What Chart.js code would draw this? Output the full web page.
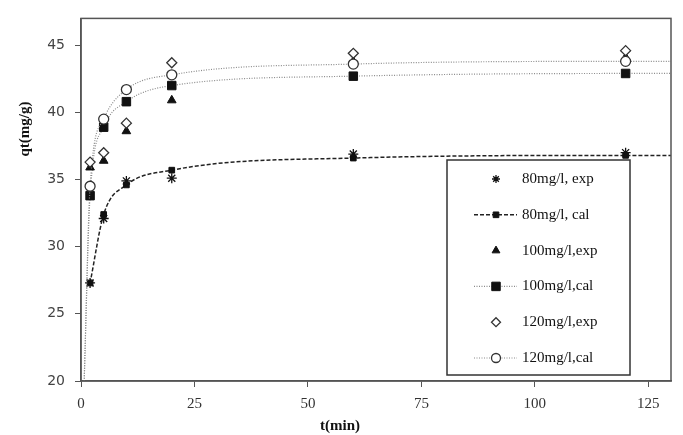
<!DOCTYPE html>
<html>
<head>
<meta charset="utf-8">
<script src="https://cdn.jsdelivr.net/npm/chart.js@4"></script>
<style>
  body { margin: 0; background: #fff; }
  #wrap { width: 683px; height: 435px; }
</style>
</head>
<body>
<div id="wrap"><canvas id="myChart"></canvas></div>
<script>
// sampling times (min)
const times = [2, 5, 10, 20, 60, 120];
// times for the model curves (line runs off the bottom and to the right edge)
const calTimes80 = [2, 5, 10, 20, 60, 120, 130];
const calTimes = [0.7, 2, 5, 10, 20, 60, 120, 130];

const exp80 = [27.3, 32.1, 34.9, 35.1, 36.9, 37.0];
const cal80 = [27.3, 32.4, 34.6, 35.7, 36.6, 36.8, 36.8];
const exp100 = [35.9, 36.4, 38.6, 40.9, 43.8, 44.1];
const cal100 = [20, 33.8, 38.9, 40.8, 42.0, 42.7, 42.9, 42.9];
const exp120 = [36.3, 37.0, 39.2, 43.7, 44.4, 44.6];
const cal120 = [20, 34.5, 39.5, 41.7, 42.8, 43.6, 43.8, 43.8];

const xTicks = [0, 25, 50, 75, 100, 125];
const yTicks = [20, 25, 30, 35, 40, 45];
const labels = ['80mg/l, exp', '80mg/l, cal', '100mg/l,exp', '100mg/l,cal', '120mg/l,exp', '120mg/l,cal'];

function pts(xs, ys) {
  return ys.map((y, i) => ({ x: xs[i], y: y }));
}
// hide markers on the extra curve points (first/last that are not sampling times)
function radii(xs, r) {
  return xs.map(x => times.includes(x) ? r : 0);
}

const ctx = document.getElementById('myChart');

const boxPlugin = {
  id: 'box',
  afterDraw(chart) {
    const c = chart.ctx;
    const a = chart.chartArea;
    c.save();
    c.strokeStyle = '#555';
    c.lineWidth = 1.5;
    c.strokeRect(a.left, a.top, a.right - a.left, a.bottom - a.top);

    // axis titles
    c.fillStyle = '#111';
    c.font = 'bold 15px "Liberation Serif"';
    c.textAlign = 'center';
    c.textBaseline = 'middle';
    c.fillText('t(min)', 340, 426);
    c.translate(25, 129);
    c.rotate(-Math.PI / 2);
    c.fillText('qt(mg/g)', 0, 0);
    c.restore();

    // legend
    c.save();
    const lx = 447, ly = 160, lw = 183, lh = 215;
    c.fillStyle = '#fff';
    c.fillRect(lx, ly, lw, lh);
    c.strokeStyle = '#333';
    c.lineWidth = 1.5;
    c.strokeRect(lx, ly, lw, lh);
    chart.data.datasets.forEach((ds, i) => {
      const y = 179 + i * 35.8;
      if (ds.showLine) {
        c.beginPath();
        c.setLineDash(ds.borderDash || []);
        c.strokeStyle = ds.borderColor;
        c.lineWidth = ds.borderWidth;
        c.moveTo(474, y);
        c.lineTo(517, y);
        c.stroke();
        c.setLineDash([]);
      }
      c.fillStyle = ds.pointBackgroundColor;
      c.strokeStyle = ds.pointBorderColor;
      c.lineWidth = ds.pointBorderWidth;
      Chart.helpers.drawPoint(c, {
        pointStyle: ds.pointStyle,
        radius: ds.legendRadius,
        borderWidth: ds.pointBorderWidth,
        rotation: 0
      }, 496, y);
      c.fillStyle = '#111';
      c.font = '15px "Liberation Serif"';
      c.textAlign = 'left';
      c.textBaseline = 'middle';
      c.fillText(ds.label, 522, y);
    });
    c.restore();
  }
};

new Chart(ctx, {
  type: 'scatter',
  data: {
    datasets: [
      {
        label: labels[0],
        data: pts(times, exp80),
        showLine: false,
        pointStyle: 'star',
        pointRadius: 5,
        legendRadius: 4,
        pointBackgroundColor: '#111',
        pointBorderColor: '#111',
        pointBorderWidth: 1.3,
        order: 1
      },
      {
        label: labels[1],
        data: pts(calTimes80, cal80),
        showLine: true,
        borderColor: '#222',
        borderWidth: 1.5,
        borderDash: [4, 2],
        cubicInterpolationMode: 'monotone',
        pointStyle: 'rect',
        pointRadius: radii(calTimes80, 4),
        legendRadius: 4,
        pointBackgroundColor: '#111',
        pointBorderColor: '#111',
        pointBorderWidth: 1,
        order: 2
      },
      {
        label: labels[2],
        data: pts(times, exp100),
        showLine: false,
        pointStyle: 'triangle',
        pointRadius: 5,
        legendRadius: 4.5,
        pointBackgroundColor: '#111',
        pointBorderColor: '#111',
        pointBorderWidth: 1,
        order: 1
      },
      {
        label: labels[3],
        data: pts(calTimes, cal100),
        showLine: true,
        borderColor: '#8a8a8a',
        borderWidth: 1.2,
        borderDash: [1, 1.5],
        cubicInterpolationMode: 'monotone',
        pointStyle: 'rect',
        pointRadius: radii(calTimes, 6),
        legendRadius: 6,
        pointBackgroundColor: '#111',
        pointBorderColor: '#111',
        pointBorderWidth: 1,
        order: 2
      },
      {
        label: labels[4],
        data: pts(times, exp120),
        showLine: false,
        pointStyle: 'rectRot',
        pointRadius: 5,
        legendRadius: 4.5,
        pointBackgroundColor: '#fff',
        pointBorderColor: '#333',
        pointBorderWidth: 1.3,
        order: 0
      },
      {
        label: labels[5],
        data: pts(calTimes, cal120),
        showLine: true,
        borderColor: '#8a8a8a',
        borderWidth: 1.2,
        borderDash: [1, 1.5],
        cubicInterpolationMode: 'monotone',
        pointStyle: 'circle',
        pointRadius: radii(calTimes, 5),
        legendRadius: 4.5,
        pointBackgroundColor: '#fff',
        pointBorderColor: '#333',
        pointBorderWidth: 1.3,
        order: 0
      }
    ]
  },
  options: {
    responsive: true,
    maintainAspectRatio: false,
    animation: false,
    layout: { padding: { left: 0, right: 12, top: 14, bottom: 0 } },
    plugins: {
      legend: { display: false },
      tooltip: { enabled: false }
    },
    scales: {
      x: {
        type: 'linear',
        min: 0,
        max: 130,
        afterFit: function(scale) { scale.height = 54; },
        afterBuildTicks: function(scale) { scale.ticks = xTicks.map(v => ({ value: v })); },
        ticks: {
          padding: 8,
          color: '#333',
          font: { family: '"Liberation Serif"', size: 15 }
        },
        grid: { drawOnChartArea: false, tickLength: 6, color: '#555' },
        border: { color: '#555', width: 1.5 }
      },
      y: {
        min: 20,
        max: 47,
        afterFit: function(scale) { scale.width = 81; },
        afterBuildTicks: function(scale) { scale.ticks = yTicks.map(v => ({ value: v })); },
        ticks: {
          padding: 10,
          color: '#444',
          font: { family: '"DejaVu Sans"', size: 14 }
        },
        grid: { drawOnChartArea: false, tickLength: 6, color: '#555' },
        border: { color: '#555', width: 1.5 }
      }
    }
  },
  plugins: [boxPlugin]
});
</script>
</body>
</html>
